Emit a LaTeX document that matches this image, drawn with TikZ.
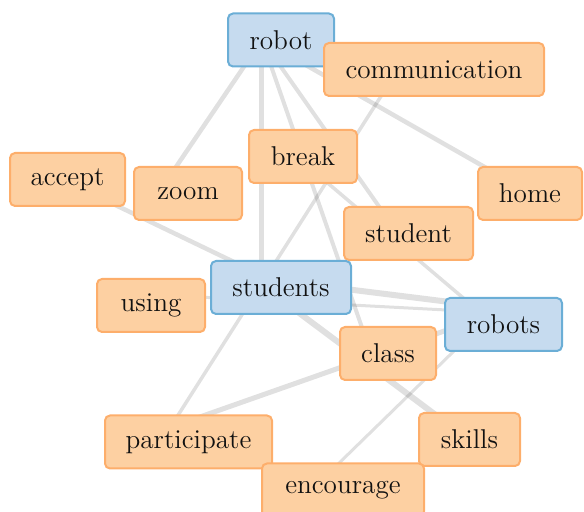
\documentclass[tikz,border=0pt]{standalone}
\usetikzlibrary{calc}
\definecolor{ofill}{HTML}{FDD0A2}
\definecolor{odraw}{HTML}{FDAE6B}
\definecolor{bfill}{HTML}{C6DBEF}
\definecolor{bdraw}{HTML}{6BAED6}
\definecolor{txt}{HTML}{111111}
\pgfdeclarelayer{bg}
\pgfsetlayers{bg,main}
\begin{document}
\begin{tikzpicture}[x=0.5pt,y=-0.5pt,
  word/.style={rounded corners=2.5pt, line width=1pt, minimum height=26.5pt,
    inner sep=0pt, font=\fontsize{13.6}{16}\selectfont, text=txt},
  onode/.style={word, fill=ofill, draw=odraw},
  bnode/.style={word, fill=bfill, draw=bdraw},
  link/.style={draw=black, draw opacity=0.12, line width=#1},
  link/.default=2pt]
\clip (0,0) rectangle (584,512);
% nodes
\node[bnode, minimum width=53pt]   (robot)    at (281,40)    {robot};
\node[onode, minimum width=110pt]  (comm)     at (434,69.5)  {communication};
\node[onode, minimum width=57.5pt] (accept)   at (67.5,179.5){accept};
\node[onode, minimum width=54pt]   (zoom)     at (188,193.5) {zoom};
\node[onode, minimum width=54pt]   (brk)      at (303,156.5) {break};
\node[onode, minimum width=52pt]   (home)     at (530,193.5) {home};
\node[onode, minimum width=64.5pt] (student)  at (408.5,233.5){student};
\node[bnode, minimum width=70pt]   (students) at (281,287.5) {students};
\node[onode, minimum width=54pt]   (using)    at (151,305.5) {using};
\node[bnode, minimum width=58.5pt] (robots)   at (503.5,324.5){robots};
\node[onode, minimum width=48pt]   (class)    at (388,353.5) {class};
\node[onode, minimum width=83.5pt] (particip) at (188.5,442)  {participate};
\node[onode, minimum width=50.5pt] (skills)   at (469.5,439.5){skills};
\node[onode, minimum width=81pt]   (encour)   at (343,490) {encourage};
% connectors
\begin{pgfonlayer}{bg}
\draw[link=2.25pt] ($(robot)+(-19,0)$) -- ($(zoom)+(-30,0)$);
\draw[link=2.5pt]  ($(robot)+(-20,0)$) -- ($(students)+(-20,0)$);
\draw[link=2pt]    ($(robot)+(-19,0)$) -- ($(class)+(-17,0)$);
\draw[link=2pt]    ($(robot)+(-19,0)$) -- ($(student)+(-10.5,0)$);
\draw[link=2.25pt] ($(robot)+(-19,0)$) -- ($(home)+(1,0)$);
\draw[link=1.75pt] ($(comm)+(-36,0)$) -- ($(particip)+(-27.5,0)$);
\draw[link=2.25pt] ($(accept)+(0,2.5)$) -- ($(students)+(-20,-12.5)$);
\draw[link=1.75pt] ($(brk)+(-6.6,0)$) -- ($(robots)+(-9,0)$);
\draw[link=3pt]    ($(students)+(-20,-9)$) -- ($(robots)+(-9.5,-17)$);
\draw[link=1.5pt]  ($(using)+(0,-11)$) -- ($(robots)+(-9.5,-12)$);
\draw[link=3pt]    ($(students)+(-20,-3)$) -- ($(skills)+(0,0.7)$);
\draw[link=2.5pt]  ($(particip)+(0,-21)$) -- ($(robots)+(-9.5,-11)$);
\draw[link=1.5pt]  ($(robots)+(-9.5,-12.5)$) -- ($(encour)+(-30,-1.5)$);
\end{pgfonlayer}
\end{tikzpicture}
\end{document}
